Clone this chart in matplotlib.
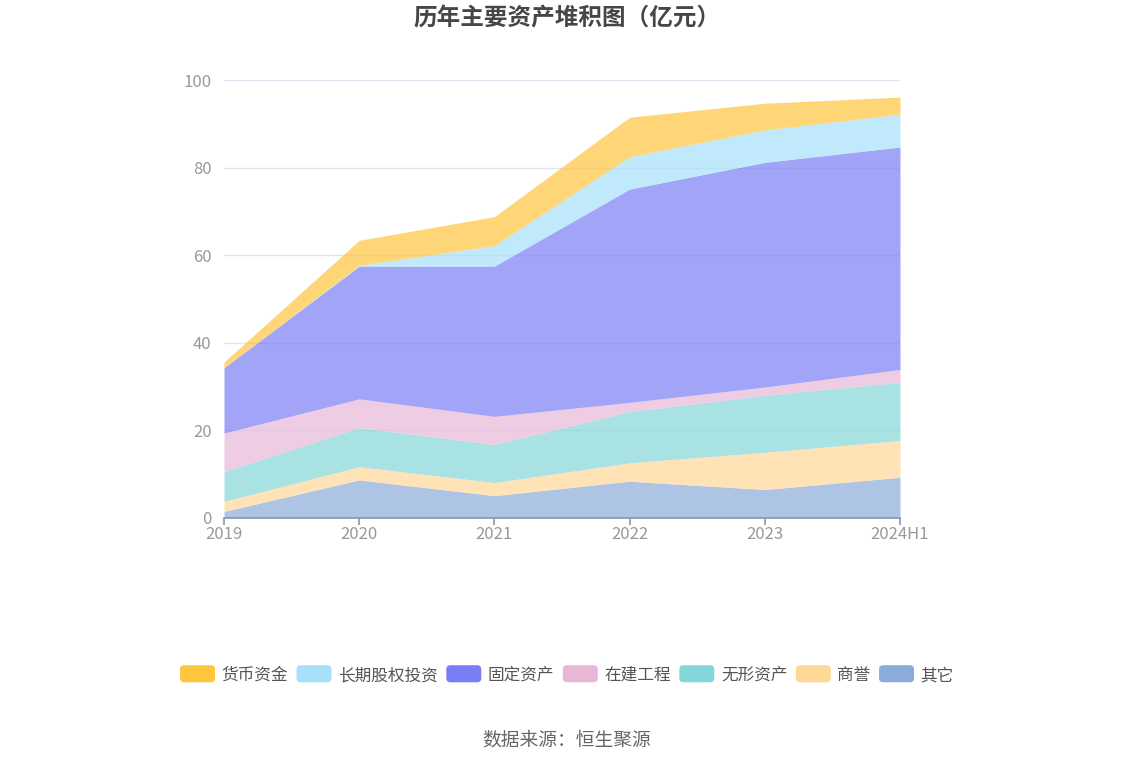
import matplotlib
matplotlib.use("Agg")
import matplotlib.pyplot as plt
from matplotlib.patches import FancyBboxPatch
from matplotlib.legend_handler import HandlerPatch

plt.rcParams['font.family'] = ['Noto Sans CJK SC', 'DejaVu Sans']

years = ["2019", "2020", "2021", "2022", "2023", "2024H1"]

# 亿元, stacked bottom -> top
other = [1.5, 8.7, 5.1, 8.4, 6.5, 9.3]
goodwill = [2.3, 3.0, 3.0, 4.2, 8.5, 8.4]
intangible = [6.8, 8.9, 8.7, 11.7, 13.0, 13.3]
construction = [8.8, 6.6, 6.4, 2.1, 1.9, 2.9]
fixed_assets = [14.9, 30.3, 34.3, 48.7, 51.3, 50.8]
lt_equity = [0.0, 0.2, 4.7, 7.4, 7.4, 7.5]
cash = [1.3, 5.7, 6.6, 9.0, 6.1, 3.9]

series = [
    ("其它", other, "#8BACDB"),
    ("商誉", goodwill, "#FFD897"),
    ("无形资产", intangible, "#84D7D8"),
    ("在建工程", construction, "#E8B7D8"),
    ("固定资产", fixed_assets, "#7A7EF5"),
    ("长期股权投资", lt_equity, "#A6E0FA"),
    ("货币资金", cash, "#FFC53D"),
]

fig = plt.figure(figsize=(11.34, 7.66), dpi=100)
ax = fig.add_axes([224 / 1134, 1 - 518 / 766, 676 / 1134, 438 / 766])

x = list(range(len(years)))
base = [0.0] * len(years)
handles = []
for name, vals, color in series:
    top = [b + v for b, v in zip(base, vals)]
    ax.fill_between(x, base, top, color=color, alpha=0.7, linewidth=0, zorder=2)
    handles.append(plt.Rectangle((0, 0), 1, 1, facecolor=color, edgecolor="none", label=name))
    base = top

ax.set_xlim(0, len(years) - 1)
ax.set_ylim(0, 100)
ax.set_yticks([0, 20, 40, 60, 80, 100])
ax.set_xticks(x)
ax.set_xticklabels(years)
ax.grid(axis="y", color="#E0E6F1", linewidth=1, zorder=1)
for s in ["top", "right", "left"]:
    ax.spines[s].set_visible(False)
ax.spines["bottom"].set_color("#8C96A8")
ax.spines["bottom"].set_linewidth(1.2)
ax.spines["bottom"].set_zorder(3)
ax.tick_params(axis="x", colors="#8C96A8", length=5, width=1.2, labelcolor="#999999",
               labelsize=12, pad=1)
ax.tick_params(axis="y", length=0, labelcolor="#999999", labelsize=12, pad=9)

fig.text(0.5, 1 - 18 / 766, "历年主要资产堆积图（亿元）", ha="center", va="center",
         fontsize=17, fontweight="bold", color="#464646")


class RoundBox(HandlerPatch):
    def create_artists(self, legend, orig, xd, yd, w, h, fs, trans):
        p = FancyBboxPatch((xd, yd - 0.3 * h), w, h,
                           boxstyle="round,pad=0,rounding_size=3",
                           facecolor=orig.get_facecolor(), edgecolor="none", transform=trans)
        return [p]


legend_order = ["货币资金", "长期股权投资", "固定资产", "在建工程", "无形资产", "商誉", "其它"]
hmap = {h.get_label(): h for h in handles}
fig.legend([hmap[n] for n in legend_order], legend_order, loc="center",
           bbox_to_anchor=(0.5, 1 - 675 / 766), ncol=7, frameon=False,
           handler_map={plt.Rectangle: RoundBox()}, handlelength=2.1, handleheight=1.2,
           handletextpad=0.4, columnspacing=0.5, fontsize=12, labelcolor="#555555")

fig.text(0.5, 1 - 740 / 766, "数据来源：恒生聚源", ha="center", va="center",
         fontsize=13.5, color="#666666")

fig.savefig("out.png", dpi=100)
